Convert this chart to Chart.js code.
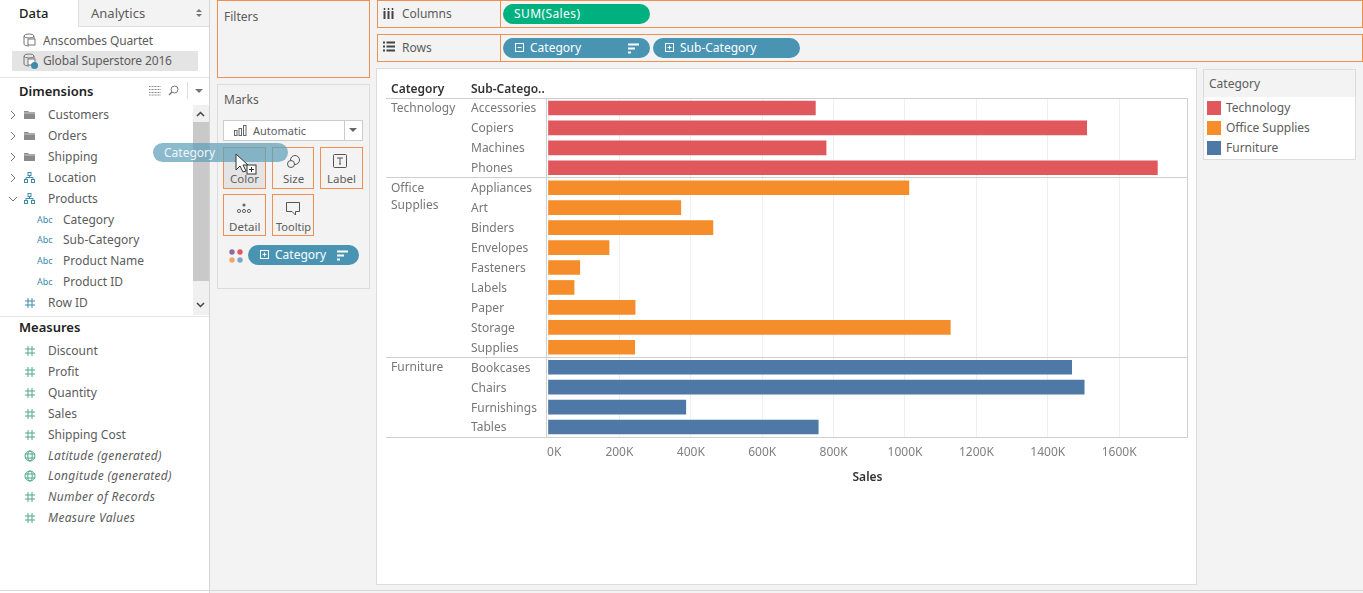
<!DOCTYPE html>
<html>
<head>
<meta charset="utf-8">
<title>Sales by Sub-Category</title>
<script src="https://cdn.jsdelivr.net/npm/chart.js@4"></script>
<style>
  html, body { margin: 0; padding: 0; width: 1363px; height: 593px; overflow: hidden; background: #f3f3f3; }
  body { font-family: "Noto Sans", sans-serif; font-size: 12px; color: #5c5c5c; }
  .box { position: absolute; box-sizing: border-box; }
  .txt { position: absolute; white-space: nowrap; line-height: 16px; margin-top: -8px; }
  .ico { position: absolute; }
  .pill { position: absolute; box-sizing: border-box; height: 20px; border-radius: 10px; background: #4a94b3; color: #fff; line-height: 20px; }
  #chart { position: absolute; left: 377px; top: 69px; }
</style>
</head>
<body>
<div id="ui"></div>
<canvas id="chart" width="819" height="515"></canvas>
<div id="top"></div>
<script>
// Data (sales in thousands)
const technologySubs = ['Accessories', 'Copiers', 'Machines', 'Phones'];
const technologySales = [749, 1509, 779, 1707];
const officeSubs = ['Appliances', 'Art', 'Binders', 'Envelopes', 'Fasteners', 'Labels', 'Paper', 'Storage', 'Supplies'];
const officeSales = [1011, 372, 462, 171, 89, 73, 244, 1127, 243];
const furnitureSubs = ['Bookcases', 'Chairs', 'Furnishings', 'Tables'];
const furnitureSales = [1467, 1502, 386, 757];
const tickValues = [0, 200, 400, 600, 800, 1000, 1200, 1400, 1600];
const axisMax = 1790;

const categories = ['Technology', 'Office Supplies', 'Furniture'];
const categoryColors = ['#e0575c', '#f58d2b', '#4e78a6'];
const categorySubs = [technologySubs, officeSubs, furnitureSubs];
const categorySales = [technologySales, officeSales, furnitureSales];
const categoryLines = [['Technology'], ['Office', 'Supplies'], ['Furniture']];

const dimensionRows = ['Customers', 'Orders', 'Shipping', 'Location', 'Products'];
const productRows = ['Category', 'Sub-Category', 'Product Name', 'Product ID'];
const measureRows = ['Discount', 'Profit', 'Quantity', 'Sales', 'Shipping Cost'];
const generatedRows = ['Latitude (generated)', 'Longitude (generated)', 'Number of Records', 'Measure Values'];

const fontName = '"Noto Sans", sans-serif';
const orange = '#ef9050';
const ui = document.getElementById('ui');
const top_ = document.getElementById('top');

// Small helpers for the Tableau window around the chart
function box(x, y, w, h, css, parent) {
  (parent || ui).insertAdjacentHTML('beforeend',
    `<div class="box" style="left:${x}px;top:${y}px;width:${w}px;height:${h}px;${css}"></div>`);
}
function text(x, y, str, css, parent) {
  (parent || ui).insertAdjacentHTML('beforeend',
    `<div class="txt" style="left:${x}px;top:${y}px;${css || ''}">${str}</div>`);
}
function icon(x, y, w, h, body, parent) {
  (parent || ui).insertAdjacentHTML('beforeend',
    `<svg class="ico" style="left:${x}px;top:${y}px" width="${w}" height="${h}" viewBox="0 0 ${w} ${h}" fill="none">${body}</svg>`);
}
function pill(x, y, w, label, textX, css, parent) {
  (parent || ui).insertAdjacentHTML('beforeend',
    `<div class="pill" style="left:${x}px;top:${y}px;width:${w}px;${css || ''}"><span style="position:absolute;left:${textX}px">${label}</span></div>`);
}

const hashIcon = c => `<path d="M4 1V11M8 1V11M1 4H11M1 8H11" stroke="${c}" stroke-width="1"/>`;
const globeIcon = `<circle cx="6" cy="6" r="5" stroke="#4ea88a"/><ellipse cx="6" cy="6" rx="2.2" ry="5" stroke="#4ea88a"/><path d="M1 4H11M1 8H11" stroke="#4ea88a"/>`;
const folderIcon = `<path d="M0 2H4L5 3H11V10H0Z" fill="#8a8a8a"/><path d="M0 4H11" stroke="#ccc"/>`;
const treeIcon = `<rect x="4" y="0.5" width="3" height="3" stroke="#3d8bad"/><rect x="0.5" y="7.5" width="3" height="3" stroke="#3d8bad"/><rect x="7.5" y="7.5" width="3" height="3" stroke="#3d8bad"/><path d="M5.5 3.5V5.5M2 7.5V5.5H9V7.5" stroke="#3d8bad"/>`;
const chevRight = `<path d="M1 1L5 5L1 9" stroke="#777"/>`;
const chevDown = `<path d="M1 1L5 5L9 1" stroke="#777"/>`;
const plusBox = `<rect x="0.5" y="0.5" width="8" height="8" stroke="#fff"/><path d="M2.5 4.5H6.5M4.5 2.5V6.5" stroke="#fff"/>`;
const minusBox = `<rect x="0.5" y="0.5" width="8" height="8" stroke="#fff"/><path d="M2.5 4.5H6.5" stroke="#fff"/>`;
const sortBars = `<path d="M0 1.5H11M0 5.5H7M0 9.5H3" stroke="#fff" stroke-width="2"/>`;
const sourceIcon = `<ellipse cx="7" cy="3" rx="5" ry="2" stroke="#777"/><path d="M2 3V11C2 12 4 13 7 13M12 3V6" stroke="#777"/><rect x="6" y="6" width="7" height="6" stroke="#777" fill="#fff"/>`;

// Left data pane
box(0, 0, 210, 593, 'background:#fff;border-right:1px solid #d4d4d4');
box(78, 0, 131, 27, 'background:#f3f3f3;border-left:1px solid #ddd;border-bottom:1px solid #ddd');
text(19, 13, 'Data', 'color:#222;font-size:13px;font-weight:500');
text(91, 13, 'Analytics', 'font-size:13px');
icon(195, 8, 8, 10, `<path d="M1 4L4 1L7 4ZM1 6L4 9L7 6Z" fill="#777"/>`);
box(12, 51, 186, 20, 'background:#e4e4e4');
icon(22, 33, 14, 14, sourceIcon);
icon(22, 53, 14, 14, sourceIcon);
icon(31, 62, 7, 7, `<circle cx="3.5" cy="3.5" r="3.5" fill="#3d8bad"/>`);
text(43, 41, 'Anscombes Quartet', 'letter-spacing:-0.12px');
text(43, 61, 'Global Superstore 2016', 'letter-spacing:-0.14px');
box(0, 77, 209, 1, 'background:#e6e6e6');
text(19, 91, 'Dimensions', 'color:#222;font-weight:600;font-size:13px');
icon(149, 85, 12, 11, `<path d="M0 1.5H12M0 4.5H12M0 7.5H12M0 10H12" stroke="#888"/><path d="M2 0V11M5 0V11M8 0V11M11 0V11" stroke="#fff"/>`);
icon(168, 85, 11, 11, `<circle cx="6.5" cy="4.5" r="3.5" stroke="#777"/><path d="M4 7L1 10" stroke="#777" stroke-width="1.5"/>`);
box(187, 82, 1, 17, 'background:#ddd');
icon(195, 89, 8, 5, `<path d="M0 0H8L4 4Z" fill="#777"/>`);

// scrollbar
box(193, 105, 16, 210, 'background:#f0f0f0');
box(193, 122, 16, 159, 'background:#c9c9c9');
icon(196, 111, 9, 6, `<path d="M1 5L4.5 1.5L8 5" stroke="#444" stroke-width="1.5"/>`);
icon(196, 302, 9, 6, `<path d="M1 1L4.5 4.5L8 1" stroke="#444" stroke-width="1.5"/>`);

dimensionRows.forEach((name, i) => {
  const y = 115 + i * 21;
  if (i < 4) icon(10, y - 5, 6, 10, chevRight); else icon(8, y - 3, 10, 6, chevDown);
  icon(24, y - 6, 12, 12, i < 3 ? folderIcon : treeIcon);
  text(48, y, name);
});
productRows.forEach((name, i) => {
  const y = 219.5 + i * 20.9;
  text(37, y, 'Abc', 'font-size:9px;color:#3d8bad');
  text(63, y, name);
});
icon(24, 297, 12, 12, hashIcon('#3d8bad'));
text(48, 303, 'Row ID');
box(0, 316, 209, 1, 'background:#e6e6e6');
text(19, 327, 'Measures', 'color:#222;font-weight:600;font-size:13px');
measureRows.forEach((name, i) => {
  const y = 351 + i * 20.9;
  icon(24, y - 6, 12, 12, hashIcon('#4ea88a'));
  text(48, y, name);
});
generatedRows.forEach((name, i) => {
  const y = 455.5 + i * 20.9;
  icon(24, y - 6, 12, 12, i < 2 ? globeIcon : hashIcon('#4ea88a'));
  text(48, y, name, 'font-style:italic;letter-spacing:0.3px');
});
box(0, 590, 1363, 1, 'background:#d8d8d8');

// Filters and Marks cards
box(217, 0, 153, 78, `border:1px solid ${orange}`);
text(224, 16.5, 'Filters');
box(217, 84, 153, 205, 'border:1px solid #dcdcdc');
text(224, 99.5, 'Marks');
box(223, 120, 140, 21, 'background:#fff;border:1px solid #ccc');
box(344, 121, 1, 19, 'background:#ccc');
icon(349, 128, 8, 5, `<path d="M0 0H8L4 4Z" fill="#666"/>`);
icon(234, 125, 13, 11, `<rect x="0.5" y="5.5" width="2.5" height="5" stroke="#666"/><rect x="5" y="3.5" width="2.5" height="7" stroke="#666"/><rect x="9.5" y="0.5" width="2.5" height="10" stroke="#666"/>`);
text(253, 130.5, 'Automatic', 'font-size:11px');
box(223, 147, 43, 42, `background:#e4e4e4;border:1px solid ${orange}`);
box(272, 147, 42, 42, `border:1px solid ${orange}`);
box(320, 147, 43, 42, `border:1px solid ${orange}`);
box(223, 194, 43, 42, `border:1px solid ${orange}`);
box(272, 194, 42, 42, `border:1px solid ${orange}`);
text(230, 179, 'Color', 'font-size:11.5px');
text(283, 179, 'Size', 'font-size:11.5px');
text(327, 179, 'Label', 'font-size:11.5px');
text(229, 227, 'Detail', 'font-size:11.5px');
text(276, 227, 'Tooltip', 'font-size:11px');
icon(286, 155, 14, 13, `<circle cx="9" cy="5" r="4.5" stroke="#555"/><circle cx="5" cy="9" r="3.5" stroke="#555" fill="#f3f3f3"/>`);
icon(333, 154, 14, 14, `<rect x="0.5" y="0.5" width="13" height="13" rx="1" stroke="#555"/><path d="M4 4H10M7 4V10M6 10H8" stroke="#555"/>`);
icon(237, 203, 14, 11, `<circle cx="7" cy="2" r="1.6" fill="#666"/><circle cx="2" cy="8" r="1.6" stroke="#666"/><circle cx="7" cy="8" r="1.6" stroke="#666"/><circle cx="12" cy="8" r="1.6" stroke="#666"/>`);
icon(286, 202, 14, 14, `<path d="M0.5 0.5H13.5V9.5H9.5V13L6 9.5H0.5Z" stroke="#555"/>`);
icon(229, 249, 15, 14, `<circle cx="3" cy="3" r="2.7" fill="#8a6d9e"/><circle cx="11" cy="3" r="2.7" fill="#e2575c"/><circle cx="3" cy="11" r="2.7" fill="#f2a66a"/><circle cx="11" cy="11" r="2.7" fill="#7fa4c9"/>`);
pill(248, 245, 111, 'Category', 27);
icon(260, 250, 9, 9, plusBox);
icon(337, 250, 11, 11, sortBars);

// Columns and Rows shelves
box(377, 0, 986, 28, `border:1px solid ${orange}`);
box(377, 34, 986, 28, `border:1px solid ${orange}`);
box(500, 0, 1, 28, `background:${orange}`);
box(500, 34, 1, 28, `background:${orange}`);
icon(383, 8, 11, 11, `<path d="M1.5 3V11M5.5 3V11M9.5 3V11" stroke="#444" stroke-width="2"/><path d="M1.5 0V2M5.5 0V2M9.5 0V2" stroke="#444" stroke-width="1.5"/>`);
icon(383, 41, 12, 11, `<path d="M0 1.5H2M3.5 1.5H12M0 5.5H2M3.5 5.5H12M0 9.5H2M3.5 9.5H12" stroke="#444" stroke-width="2"/>`);
text(402, 14, 'Columns');
text(402, 48, 'Rows');
pill(503, 4, 147, 'SUM(Sales)', 11, 'background:#00b180;letter-spacing:0.4px');
pill(503, 38, 147, 'Category', 27);
pill(653, 38, 147, 'Sub-Category', 27);
icon(515, 43, 9, 9, minusBox);
icon(665, 43, 9, 9, plusBox);
icon(628, 43, 11, 11, sortBars);

// Worksheet and legend cards
box(376, 68, 821, 517, 'background:#fff;border:1px solid #dcdcdc');
box(1203, 69, 153, 91, 'background:#fff;border:1px solid #dcdcdc');
box(1204, 70, 151, 27, 'background:#f3f3f3');
text(1209, 84, 'Category');
categories.forEach((name, i) => {
  const y = 108 + i * 20;
  box(1207, y - 7, 14, 14, `background:${categoryColors[i]}`);
  text(1226, y, name);
});

// Everything below is built from the small arrays above
const subCategories = categorySubs.flat();
const sales = categorySales.flat();
const barColors = categorySubs.flatMap((subs, i) => subs.map(() => categoryColors[i]));

// Frame, group separators, group labels and headers
const tablePlugin = {
  id: 'tablePlugin',
  beforeDraw(chart) {
    // row labels sit a pixel below the bar centres in the reference
    chart.scales.y.getLabelItems().forEach(item => { item.options.translation[1] += 1; });
  },
  afterDatasetsDraw(chart) {
    const { ctx, chartArea, scales } = chart;
    const y = scales.y;
    const left = 9;
    ctx.save();
    ctx.strokeStyle = '#cfcfcf';
    ctx.lineWidth = 1;
    ctx.beginPath();
    ctx.moveTo(left, chartArea.top + 0.5);
    ctx.lineTo(chartArea.right + 0.5, chartArea.top + 0.5);
    ctx.lineTo(chartArea.right + 0.5, chartArea.bottom + 0.5);
    ctx.lineTo(left, chartArea.bottom + 0.5);
    ctx.moveTo(chartArea.left - 1.5, chartArea.top);
    ctx.lineTo(chartArea.left - 1.5, chartArea.bottom);
    ctx.stroke();

    ctx.textBaseline = 'middle';
    ctx.textAlign = 'left';
    let first = 0;
    categoryLines.forEach((lines, i) => {
      const rowY = y.getPixelForValue(first);
      if (i > 0) {
        const lineY = Math.floor((y.getPixelForValue(first - 1) + rowY) / 2) + 0.5;
        ctx.beginPath();
        ctx.moveTo(left, lineY);
        ctx.lineTo(chartArea.right, lineY);
        ctx.stroke();
      }
      ctx.fillStyle = '#777';
      ctx.font = `12px ${fontName}`;
      lines.forEach((line, k) => ctx.fillText(line, 14, rowY + 0.5 + k * 17));
      first += categorySubs[i].length;
    });

    ctx.fillStyle = '#333';
    ctx.font = `600 12px ${fontName}`;
    ctx.fillText('Category', 14, 21);
    ctx.fillText('Sub-Catego..', 94, 21);
    ctx.restore();
  }
};

new Chart(document.getElementById('chart'), {
  type: 'bar',
  data: {
    labels: subCategories,
    datasets: [{
      label: 'Sales',
      data: sales,
      backgroundColor: barColors,
      barThickness: 14
    }]
  },
  options: {
    indexAxis: 'y',
    responsive: false,
    animation: false,
    layout: { padding: { left: 94, top: 29, right: 9, bottom: 97 } },
    plugins: { legend: { display: false }, tooltip: { enabled: false } },
    scales: {
      x: {
        min: 0,
        max: axisMax,
        afterBuildTicks(scale) { scale.ticks = tickValues.map(v => ({ value: v })); },
        afterFit(scale) { scale.height = 50; },
        grid: { color: '#efefef', drawTicks: false },
        border: { display: false },
        ticks: {
          color: '#808080',
          font: { family: fontName, size: 12 },
          padding: 8,
          maxRotation: 0,
          autoSkip: false,
          // 0K sits just inside the axis, the others are centred on their gridline
          callback: v => (v === 0 ? '    0K' : v + 'K')
        },
        title: {
          display: true,
          text: 'Sales',
          color: '#333',
          font: { family: fontName, size: 12, weight: '600' },
          padding: { top: 3, bottom: 2 }
        }
      },
      y: {
        afterFit(scale) { scale.width = 77; },
        grid: { display: false },
        border: { display: false },
        ticks: {
          color: '#777',
          font: { family: fontName, size: 12 },
          crossAlign: 'far',
          autoSkip: false,
          padding: 0
        }
      }
    }
  },
  plugins: [tablePlugin]
});

// Field being dragged onto Color, above the cards
box(153, 143, 135, 19, 'background:rgba(96,160,186,0.72);border-radius:10px', top_);
text(164, 152.5, 'Category', 'color:#eef6f9', top_);
icon(235, 153, 24, 24, `<path d="M1 1V17L5 13L8 19L11 18L8 12H13Z" fill="#fff" stroke="#333"/><rect x="12" y="12" width="9" height="9" fill="#fff" stroke="#333"/><path d="M14 16.5H19M16.5 14V19" stroke="#333"/>`, top_);
</script>
</body>
</html>
